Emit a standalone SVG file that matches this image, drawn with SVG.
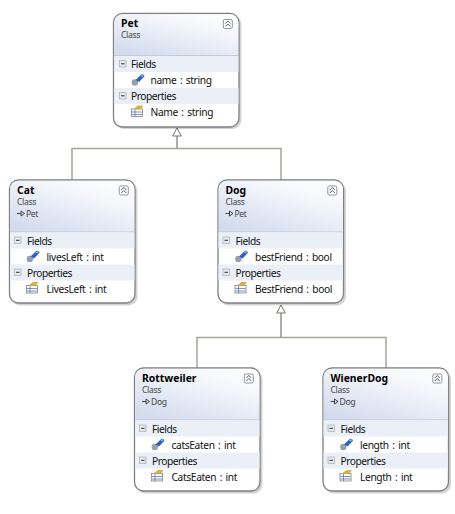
<svg xmlns="http://www.w3.org/2000/svg" xmlns:xlink="http://www.w3.org/1999/xlink" width="455" height="514" viewBox="0 0 455 514">
<style>
text{font-family:"Noto Sans","Liberation Sans",sans-serif;fill:#111}
.t{font-size:10.4px;font-weight:700;fill:#000}
.s{font-size:8.6px;fill:#444;letter-spacing:-.35px}
.m{font-size:10.2px;fill:#111;letter-spacing:-.35px;word-spacing:1.2px}
.h{font-size:10.2px;fill:#111;letter-spacing:-.45px}
.c{fill:none;stroke:#a5a59b;stroke-width:1.5}
.d{fill:none;stroke:#77776f;stroke-width:1.2}
.a{fill:#fff;stroke:#77776f;stroke-width:1}
.b{fill:#fff;stroke:#808085;stroke-width:1.3}
.sh{fill:#000;opacity:.09}
.r{fill:#ebeff8}
.l{stroke:#c6cbd8;stroke-width:1}
.tg{fill:#fff;stroke:#8a93a8;stroke-width:1}
.ch{fill:none;stroke:#445;stroke-width:.9}
.mb{fill:#e6e8ee;stroke:#b0b4bc;stroke-width:.8}
.mn{stroke:#333;stroke-width:1}
.ih{fill:none;stroke:#333;stroke-width:.9}
</style>
<defs>
<linearGradient id="hg" x1=".85" y1="0" x2=".15" y2="1">
<stop offset="0" stop-color="#ffffff"/><stop offset=".3" stop-color="#f4f6fb"/><stop offset="1" stop-color="#d2daed"/>
</linearGradient>
<g id="toggle"><rect class="tg" x="0.5" y="0.5" width="9" height="9" rx="1.5"/><path class="ch" d="M2.500 4.500l2.500-2.500 2.500 2.500M2.500 7.500l2.500-2.500 2.500 2.500"/></g>
<g id="minus"><rect class="mb" x="0.500" y="0.500" width="6.500" height="6.500"/><path class="mn" d="M2 3.800h3.500"/></g>
<g id="fld"><circle cx="3.800" cy="9" r="3.200" fill="#9a9fa8"/><path d="M4.500 6.500L10.500 .8q2.500 -.6 3 2L8 8.500z" fill="#2c62c4"/><path d="M9.500 2.500l1.800-1.500 1.500 1-1.500 1.500z" fill="#8ab4f0"/></g>
<g id="prp"><rect x=".5" y="3.500" width="11" height="7.500" fill="#fbfbfb" stroke="#7d8290" stroke-width=".8"/><path d="M1 6.500h10M1 9h10M4 4v7" stroke="#5f7ab0" stroke-width=".8"/><path d="M2.500 3.500L7 0h5.500l-2.500 3.500z" fill="#d9b23c"/></g>
<g id="inh"><path class="ih" d="M0 4h4"/><path class="ih" d="M4 1.500l3.500 2.500-3.500 2.500z"/></g>
<g id="frame">
<rect class="sh" x="114.500" y="15" width="127" height="124" rx="9"/>
<rect class="sh" x="115.500" y="16" width="126" height="123" rx="9"/>
<rect class="b" x="113.500" y="13.500" width="125.500" height="123" rx="9"/>
<path d="M122.500 14.200H230a8.300 8.300 0 0 1 8.300 8.300V65.500H114.200V22.500a8.300 8.300 0 0 1 8.300-8.300z" fill="url(#hg)"/>
<line class="l" x1="114" x2="238.500" y1="65.500" y2="65.500"/>
<rect class="r" x="114" y="66" width="124.500" height="16"/>
<rect class="r" x="114" y="98" width="124.500" height="16"/>
<use xlink:href="#toggle" href="#toggle" x="222.800" y="19"/>
<use xlink:href="#minus" href="#minus" x="118" y="70"/>
<use xlink:href="#fld" href="#fld" x="130" y="83.500"/>
<use xlink:href="#minus" href="#minus" x="118" y="102"/>
<use xlink:href="#prp" href="#prp" x="130" y="115.500"/>
</g>
</defs>
<g id="connectors">
<path class="c" d="M72 180V148.500H281V180"/>
<path class="d" d="M177 136V148"/>
<path class="a" d="M177 128l-4.300 8h8.600z"/>
<path class="c" d="M197 368V337.500H386V368"/>
<path class="d" d="M281 313V337"/>
<path class="a" d="M281 305l-4.300 8h8.600z"/>
</g>
<g id="node-pet">
<rect class="sh" x="114.500" y="15" width="127" height="114" rx="9"/>
<rect class="sh" x="115.500" y="16" width="126" height="113" rx="9"/>
<rect class="b" x="113.500" y="13.500" width="125.500" height="113.500" rx="9"/>
<path d="M122.500 14.200H230a8.300 8.300 0 0 1 8.300 8.300V55.500H114.200V22.500a8.300 8.300 0 0 1 8.300-8.300z" fill="url(#hg)"/>
<line class="l" x1="114" x2="238.500" y1="55.500" y2="55.500"/>
<rect class="r" x="114" y="56" width="124.500" height="16"/>
<rect class="r" x="114" y="88" width="124.500" height="16"/>
<use xlink:href="#toggle" href="#toggle" x="222.800" y="19"/>
<use xlink:href="#minus" href="#minus" x="119" y="60"/>
<use xlink:href="#fld" href="#fld" x="131" y="73.500"/>
<use xlink:href="#minus" href="#minus" x="119" y="92"/>
<use xlink:href="#prp" href="#prp" x="131" y="105.500"/>
<text class="t" x="121" y="27">Pet</text><text class="s" x="121" y="37.500">Class</text>
<text class="h" x="131" y="68">Fields</text>
<text class="m" x="150.500" y="84">name : string</text>
<text class="h" x="131" y="100">Properties</text>
<text class="m" x="150.500" y="116">Name : string</text>
</g>
<g id="node-cat" transform="translate(-104,166.500)">
<use xlink:href="#frame" href="#frame"/>
<text class="t" x="121" y="27.500">Cat</text><text class="s" x="121" y="38">Class</text>
<use xlink:href="#inh" href="#inh" x="121" y="43"/><text class="s" x="130" y="50.500">Pet</text>
<text class="h" x="131" y="78">Fields</text>
<text class="m" x="150.500" y="94">livesLeft : int</text>
<text class="h" x="131" y="110">Properties</text>
<text class="m" x="150.500" y="126">LivesLeft : int</text>
</g>
<g id="node-dog" transform="translate(104.500,166.500)">
<use xlink:href="#frame" href="#frame"/>
<text class="t" x="121" y="27.500">Dog</text><text class="s" x="121" y="38">Class</text>
<use xlink:href="#inh" href="#inh" x="121" y="43"/><text class="s" x="130" y="50.500">Pet</text>
<text class="h" x="131" y="78">Fields</text>
<text class="m" x="150.500" y="94">bestFriend : bool</text>
<text class="h" x="131" y="110">Properties</text>
<text class="m" x="150.500" y="126">BestFriend : bool</text>
</g>
<g id="node-rottweiler" transform="translate(21,354.500)">
<use xlink:href="#frame" href="#frame"/>
<text class="t" x="121" y="27.500">Rottweiler</text><text class="s" x="121" y="38">Class</text>
<use xlink:href="#inh" href="#inh" x="121" y="43"/><text class="s" x="130" y="50.500">Dog</text>
<text class="h" x="131" y="78">Fields</text>
<text class="m" x="150.500" y="94">catsEaten : int</text>
<text class="h" x="131" y="110">Properties</text>
<text class="m" x="150.500" y="126">CatsEaten : int</text>
</g>
<g id="node-wienerdog" transform="translate(209.500,354.500)">
<use xlink:href="#frame" href="#frame"/>
<text class="t" x="121" y="27.500">WienerDog</text><text class="s" x="121" y="38">Class</text>
<use xlink:href="#inh" href="#inh" x="121" y="43"/><text class="s" x="130" y="50.500">Dog</text>
<text class="h" x="131" y="78">Fields</text>
<text class="m" x="150.500" y="94">length : int</text>
<text class="h" x="131" y="110">Properties</text>
<text class="m" x="150.500" y="126">Length : int</text>
</g>
</svg>
